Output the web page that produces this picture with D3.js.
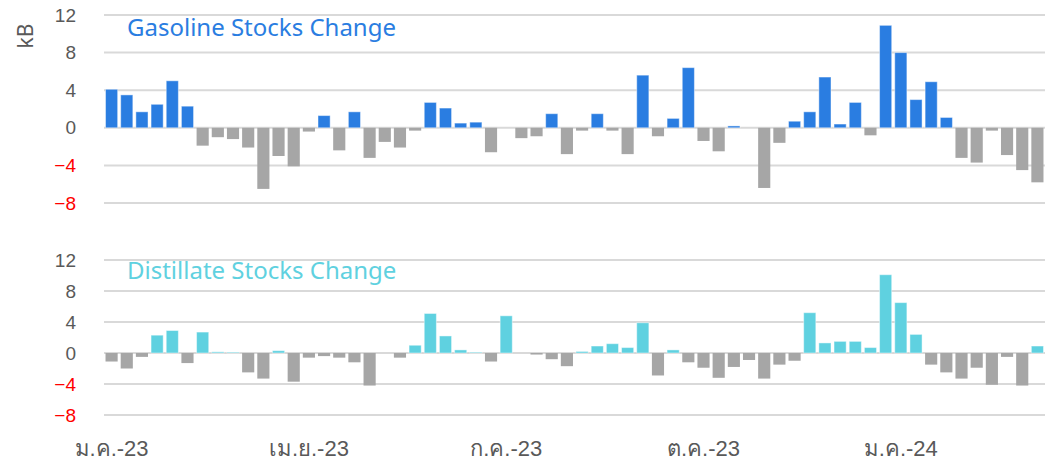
<!DOCTYPE html>
<html><head><meta charset="utf-8">
<script src="https://cdn.jsdelivr.net/npm/d3@7"></script>
<style>body{margin:0;background:#fff;}svg{display:block;font-family:"Noto Sans","DejaVu Sans",sans-serif;}</style>
</head><body><svg id="c" width="1045" height="462"></svg>
<script>
const weeks = d3.range(62);
const tickLabels = ["ม.ค.-23","เม.ย.-23","ก.ค.-23","ต.ค.-23","ม.ค.-24"];
const tickWeeks = [0,13,26,39,52];
const gasoline = [4.1,3.5,1.7,2.5,5.0,2.3,-1.9,-1.0,-1.2,-2.1,-6.5,-3.0,-4.1,-0.4,1.3,-2.4,1.7,-3.2,-1.5,-2.1,-0.3,2.7,2.1,0.5,0.6,-2.6,0,-1.1,-0.9,1.5,-2.8,-0.3,1.5,-0.3,-2.8,5.6,-0.9,1.0,6.4,-1.4,-2.5,0.2,0,-6.4,-1.6,0.7,1.7,5.4,0.4,2.7,-0.8,10.9,8.0,3.0,4.9,1.1,-3.2,-3.7,-0.3,-2.9,-4.5,-5.8];
const distillate = [-1.1,-2.0,-0.5,2.3,2.9,-1.3,2.7,0.15,0.1,-2.5,-3.3,0.3,-3.7,-0.6,-0.4,-0.6,-1.2,-4.2,0,-0.6,1.0,5.1,2.2,0.4,0.1,-1.1,4.8,0,-0.2,-0.8,-1.7,0.2,0.9,1.2,0.7,3.9,-2.9,0.4,-1.2,-1.9,-3.2,-1.8,-0.9,-3.3,-1.5,-1.0,5.2,1.3,1.5,1.5,0.7,10.1,6.5,2.4,-1.5,-2.5,-3.3,-1.9,-4.1,-0.5,-4.2,0.9];
const yTicks = [12,8,4,0,-4,-8];

const svg = d3.select("#c");
const x = d3.scaleBand().domain(weeks).range([104,1045]).paddingInner(0.2).paddingOuter(0.1);

function panel(data, top, bottom, color, title, titleY){
  const y = d3.scaleLinear().domain([-8,12]).range([bottom, top]);
  const g = svg.append("g");
  g.selectAll("line.grid").data(yTicks).join("line")
    .attr("x1",104).attr("x2",1045)
    .attr("y1",d=>y(d)).attr("y2",d=>y(d))
    .attr("stroke","#d9d9d9").attr("stroke-width",2);
  const ax = d3.axisLeft(y).tickValues(yTicks).tickSize(0).tickPadding(0);
  const ag = g.append("g").attr("transform","translate(76,0)").call(ax);
  ag.select(".domain").remove();
  ag.selectAll("text").attr("font-size",19).attr("fill",d=>d<0?"#ff0000":"#595959");
  g.selectAll("rect").data(data).join("rect")
    .attr("x",(d,i)=>x(i)).attr("width",x.bandwidth())
    .attr("y",d=>y(Math.max(0,d))).attr("height",d=>Math.abs(y(d)-y(0)))
    .attr("fill",d=>d>=0?color:"#a6a6a6")
    .attr("stroke",d=>d>=0?"rgba(255,255,255,0.45)":"none").attr("stroke-width",1);
  g.append("text").attr("x",127).attr("y",titleY).attr("font-size",24).attr("fill",color).text(title);
  return y;
}
panel(gasoline, 15, 203, "#2a7de1", "Gasoline Stocks Change", 36);
panel(distillate, 260, 415, "#5fd1e0", "Distillate Stocks Change", 279);

svg.append("text").attr("transform","translate(33,36) rotate(-90)").attr("text-anchor","middle")
  .attr("font-size",21).attr("fill","#595959").text("kB");

const xa = d3.axisBottom(x).tickValues(tickWeeks).tickFormat((d,i)=>tickLabels[i]).tickSize(0).tickPadding(0);
const xg = svg.append("g").attr("transform","translate(0,440)").call(xa);
xg.select(".domain").remove();
xg.selectAll("text").attr("font-size",22).attr("fill","#595959");
</script></body></html>
